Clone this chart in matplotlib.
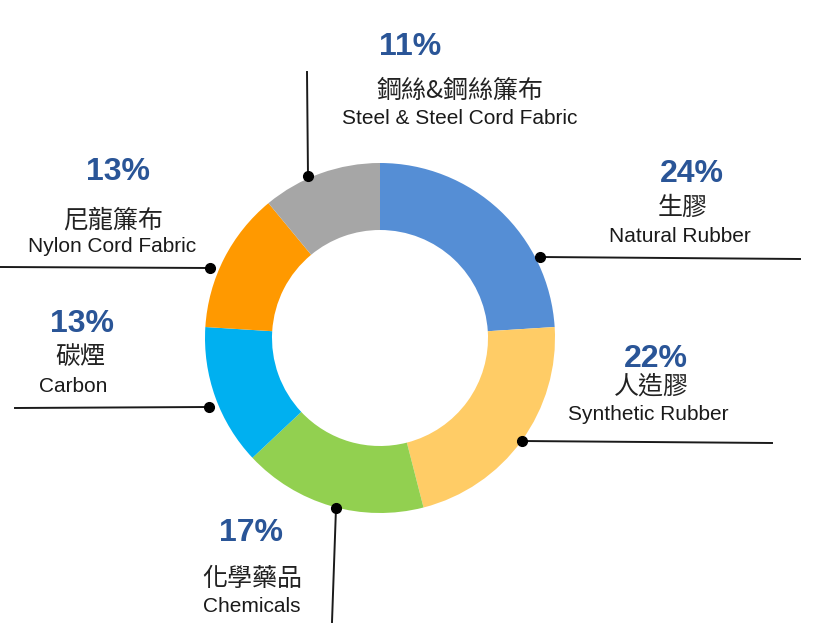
import matplotlib
matplotlib.use("Agg")
import matplotlib.pyplot as plt

categories_zh = ["生膠", "人造膠", "化學藥品", "碳煙", "尼龍簾布", "鋼絲&鋼絲簾布"]
categories_en = ["Natural Rubber", "Synthetic Rubber", "Chemicals", "Carbon",
                 "Nylon Cord Fabric", "Steel & Steel Cord Fabric"]
shares = [24, 22, 17, 13, 13, 11]
colors = ["#558ED5", "#FFCC66", "#92D050", "#00B0F0", "#FF9900", "#A6A6A6"]

W, H = 820, 635
fig = plt.figure(figsize=(8.2, 6.35), dpi=100)
ax = fig.add_axes([0, 0, 1, 1])

def Y(y):
    return H - y

cx, cy, R, r_in = 380, 338, 175, 108
ax.pie(shares, colors=colors, startangle=90, counterclock=False,
       center=(cx, Y(cy)), radius=R, frame=True,
       wedgeprops=dict(width=R - r_in, linewidth=0))
ax.set_xlim(0, W)
ax.set_ylim(0, H)
ax.set_aspect("equal")
ax.axis("off")

# leader lines: (dot x, dot y, end x, end y)
leaders = [
    (540, 257, 800, 259),
    (522, 441, 772, 443),
    (336, 508, 332, 622),
    (209, 407, 15, 408),
    (210, 268, 0, 267),
    (308, 176, 307, 72),
]
for x0, y0, x1, y1 in leaders:
    ax.plot([x0, x1], [Y(y0), Y(y1)], color="#1a1a1a", lw=1.4, zorder=3)
    ax.plot([x0], [Y(y0)], "o", color="black", ms=7, zorder=4)

# label positions: (pct center, zh center, en center)
label_pos = [
    ((692, 174), (683, 208), (680, 237)),
    ((656, 359), (651, 386), (648, 415)),
    ((251, 533), (252, 579), (252, 607)),
    ((82, 324), (80, 357), (73, 387)),
    ((118, 172), (113, 221), (112, 247)),
    ((410, 47), (460, 91), (460, 119)),
]
cjk = ["Noto Sans CJK TC", "DejaVu Sans"]
for s, zh, en, (p, z, e) in zip(shares, categories_zh, categories_en, label_pos):
    ax.text(p[0], Y(p[1]), f"{s}%", ha="center", va="center", fontsize=23,
            fontweight="bold", color="#2A5597", family="Liberation Sans")
    ax.text(z[0], Y(z[1]), zh, ha="center", va="center", fontsize=18,
            color="#222222", family=cjk)
    ax.text(e[0], Y(e[1]), en, ha="center", va="center", fontsize=15,
            color="#1a1a1a", family="Liberation Sans")

fig.savefig("out.png", dpi=100, facecolor="white")
